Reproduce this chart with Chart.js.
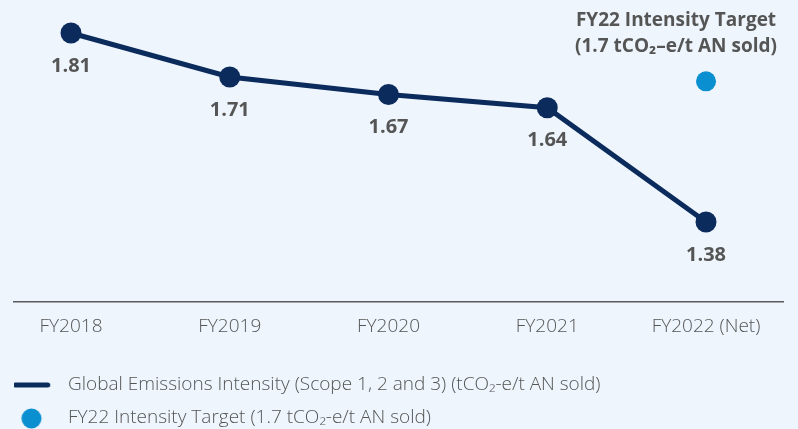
<!DOCTYPE html>
<html><head><meta charset="utf-8">
<script src="https://cdn.jsdelivr.net/npm/chart.js@4/dist/chart.umd.min.js"></script>
<style>
html,body{margin:0;padding:0;background:#EEF5FC;}
#wrap{width:798px;height:429px;position:relative;}
</style></head>
<body><div id="wrap"><canvas id="c" width="798" height="429"></canvas></div>
<script>
const categories = ["FY2018", "FY2019", "FY2020", "FY2021", "FY2022 (Net)"];
const intensityValues = [1.81, 1.71, 1.67, 1.64, 1.38];
const targetValue = 1.7;
const targetIndex = 4;
const seriesNames = ["Global Emissions Intensity (Scope 1, 2 and 3) (tCO\u2082-e/t AN sold)", "FY22 Intensity Target (1.7 tCO\u2082-e/t AN sold)"];
const annotationLines = ["FY22 Intensity Target", "(1.7 tCO\u2082\u2013e/t AN sold)"];

const NAVY = '#0b2b5c', BLUE = '#0a8fd0', GREY = '#555555';

function legendIcon(kind){
  const cv = document.createElement('canvas');
  cv.width = 70; cv.height = 24;
  const g = cv.getContext('2d');
  if(kind === 'line'){
    g.strokeStyle = NAVY; g.lineWidth = 5; g.lineCap = 'round';
    g.beginPath(); g.moveTo(7, 12); g.lineTo(39.5, 12); g.stroke();
  } else {
    g.fillStyle = BLUE; g.beginPath(); g.arc(23.25, 12.5, 10, 0, Math.PI*2); g.fill();
  }
  return cv;
}
const icons = [legendIcon('line'), legendIcon('circle')];

const labelsPlugin = {
  id: 'valueLabels',
  afterDatasetsDraw(chart){
    const ctx = chart.ctx;
    ctx.save();
    ctx.fillStyle = GREY;
    ctx.textAlign = 'center'; ctx.textBaseline = 'middle';
    ctx.font = "700 20px 'Open Sans'";
    chart.getDatasetMeta(0).data.forEach((el, i) => {
      ctx.fillText(intensityValues[i].toFixed(2), el.x, el.y + 33);
    });
    const t = chart.getDatasetMeta(1).data[0];
    ctx.font = "700 19px 'Open Sans'";
    ctx.fillText(annotationLines[0], t.x - 30, t.y - 61);
    ctx.fillText(annotationLines[1], t.x - 30, t.y - 35);
    ctx.restore();
  }
};

new Chart(document.getElementById('c'), {
  type: 'line',
  data: {
    datasets: [{
      label: seriesNames[0],
      data: intensityValues.map((v, i) => ({x: i, y: v})),
      borderColor: NAVY, backgroundColor: NAVY,
      borderWidth: 5, pointRadius: 10.5, pointHoverRadius: 10.5,
      pointBackgroundColor: NAVY, pointBorderWidth: 0, tension: 0, clip: false
    }, {
      label: seriesNames[1],
      data: [{x: targetIndex, y: targetValue}],
      showLine: false, borderColor: BLUE, backgroundColor: BLUE,
      pointRadius: 10, pointHoverRadius: 10, pointBorderWidth: 0, clip: false
    }]
  },
  options: {
    responsive: false, animation: false,
    layout: {padding: {left: 14, right: 15, top: 0, bottom: -8.5}},
    scales: {
      x: {
        type: 'linear', min: -0.359, max: 4.485,
        afterBuildTicks(s){ s.ticks = categories.map((c, i) => ({value: i})); },
        afterFit(s){ s.height = 59.5; },
        ticks: {color: GREY, font: {family: "'Open Sans'", size: 19, weight: 300}, padding: 13, autoSkip: false, maxRotation: 0,
          callback: (v) => categories[v]},
        grid: {display: false, drawTicks: false},
        border: {display: true, color: '#5a5a5a', width: 1.5}
      },
      y: {display: false, min: 1.198, max: 1.8612}
    },
    plugins: {
      tooltip: {enabled: false},
      legend: {
        position: 'bottom', align: 'start',
        labels: {
          usePointStyle: true, pointStyleWidth: 30.5, boxHeight: 19,
          color: GREY, font: {family: "'Open Sans'", size: 19, weight: 300}, padding: 14,
          generateLabels: (chart) => chart.data.datasets.map((d, i) => ({
            text: d.label, pointStyle: icons[i], fillStyle: 'transparent', strokeStyle: 'transparent',
            lineWidth: 0, hidden: false, datasetIndex: i, fontColor: GREY
          }))
        }
      }
    }
  },
  plugins: [labelsPlugin]
});
</script></body></html>
